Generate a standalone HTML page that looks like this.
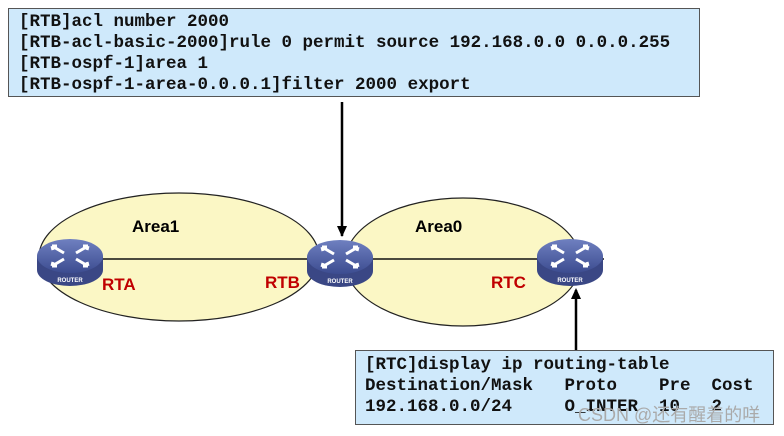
<!DOCTYPE html>
<html><head><style>
body{margin:0;width:784px;height:436px;background:#fff;position:relative;overflow:hidden;font-family:"Liberation Sans",sans-serif}
.box{position:absolute;background:#cfe9fb;border:1px solid #555;font-family:"Liberation Mono",monospace;font-weight:bold;font-size:17.5px;color:#111;white-space:pre;line-height:21px}
.lbl{position:absolute;font-weight:bold;font-size:17px}
</style></head><body>
<svg width="784" height="436" style="position:absolute;left:0;top:0">
<defs>
<linearGradient id="g" x1="0" y1="0" x2="0" y2="1"><stop offset="0" stop-color="#6f80c0"/><stop offset="1" stop-color="#3c4c90"/></linearGradient>
<g id="r">
<path d="M-33 -6 L-33 8 A33 16 0 0 0 33 8 L33 -6 Z" fill="#3a4785"/>
<ellipse cx="0" cy="-6" rx="33" ry="17" fill="url(#g)"/>
<g stroke="#fff" stroke-width="3" fill="none">
<path d="M-18 -16 L-6 -9 M-18 -16 l5 0 M-18 -16 l1 4"/>
<path d="M18 -16 L6 -9 M18 -16 l-5 0 M18 -16 l-1 4"/>
<path d="M-18 4 L-6 -3 M-18 4 l5 0 M-18 4 l1 -4"/>
<path d="M18 4 L6 -3 M18 4 l-5 0 M18 4 l-1 -4"/>
</g>
<text x="0" y="20" font-size="6" fill="#fff" font-weight="bold" text-anchor="middle" font-family="Liberation Sans">ROUTER</text>
</g>
</defs>
<ellipse cx="179" cy="257" rx="140" ry="64" fill="#fbf7c5" stroke="#222" stroke-width="1.2"/>
<ellipse cx="463" cy="262" rx="118" ry="64" fill="#fbf7c5" stroke="#222" stroke-width="1.2"/>
<line x1="70" y1="259" x2="604" y2="259" stroke="#111" stroke-width="1.5"/>
<line x1="342" y1="102" x2="342" y2="236" stroke="#000" stroke-width="2.5"/>
<path d="M337 226 L342 237 L347 226 Z"/>
<line x1="576" y1="350" x2="576" y2="290" stroke="#000" stroke-width="2.5"/>
<path d="M571 299 L576 288 L581 299 Z"/>
<use href="#r" x="70" y="262"/>
<use href="#r" x="340" y="263"/>
<use href="#r" x="570" y="262"/>
</svg>
<div class="box" style="left:8px;top:8px;width:680px;height:84px;padding:3px 0 0 10px">[RTB]acl number 2000
[RTB-acl-basic-2000]rule 0 permit source 192.168.0.0 0.0.0.255
[RTB-ospf-1]area 1
[RTB-ospf-1-area-0.0.0.1]filter 2000 export</div>
<div class="box" style="left:355px;top:350px;width:408px;height:69px;padding:4px 0 0 9px;line-height:21px">[RTC]display ip routing-table
Destination/Mask   Proto    Pre  Cost
192.168.0.0/24     O_INTER  10   2</div>
<div style="position:absolute;left:578px;top:401px;font-size:18px;color:#aaa;font-family:'Liberation Sans','Noto Sans CJK SC',sans-serif">CSDN @还有醒着的咩</div>
<div class="lbl" style="left:132px;top:217px">Area1</div>
<div class="lbl" style="left:415px;top:217px">Area0</div>
<div class="lbl" style="left:102px;top:275px;color:#c00000">RTA</div>
<div class="lbl" style="left:265px;top:273px;color:#c00000">RTB</div>
<div class="lbl" style="left:491px;top:273px;color:#c00000">RTC</div>
</body></html>
